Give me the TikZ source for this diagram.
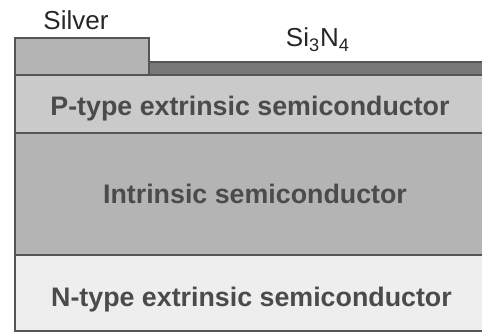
\documentclass[tikz,border=0pt]{standalone}
\usepackage{fontspec}
\setmainfont{Liberation Sans}
\usepackage{xcolor}
\usetikzlibrary{positioning}
\definecolor{edgegray}{RGB}{85,85,85}
\definecolor{textgray}{RGB}{75,75,75}
\definecolor{silverfill}{RGB}{180,180,180}
\definecolor{nitridefill}{RGB}{120,120,120}
\definecolor{ptypefill}{RGB}{202,202,202}
\definecolor{intrinsicfill}{RGB}{180,180,180}
\definecolor{ntypefill}{RGB}{238,238,238}

\begin{document}
\begin{tikzpicture}[
  x=0.5pt, y=0.5pt,
  layer/.style={draw=edgegray, line width=0.7pt},
  toplabel/.style={anchor=base, text=black!85, inner sep=0pt,
    font=\fontsize{13}{15}\selectfont},
  layerlabel/.style={anchor=base, text=textgray, inner sep=0pt,
    font=\fontsize{13.4}{16}\selectfont\bfseries}
]
\useasboundingbox (0,0) rectangle (482,333);

% layers, bottom to top
\draw[layer, fill=ntypefill] (15,2) rectangle (484,78);
\draw[layer, fill=intrinsicfill] (15,78) rectangle (484,200);
\draw[layer, fill=ptypefill] (15,200) rectangle (484,258);
\draw[layer, fill=nitridefill] (149,258) rectangle (484,271);
\draw[layer, fill=silverfill] (15,258) rectangle (149,295);

% labels
\node[toplabel] (silver) at (76,304) {Silver};
\node[toplabel] (nitride) at (318,286) {Si\textsubscript{3}N\textsubscript{4}};
\node[layerlabel] (ptype) at (250,218) {P-type extrinsic semiconductor};
\node[layerlabel] (intrinsic) at (255,130) {Intrinsic semiconductor};
\node[layerlabel] (ntype) at (251.5,27) {N-type extrinsic semiconductor};

\end{tikzpicture}
\end{document}
